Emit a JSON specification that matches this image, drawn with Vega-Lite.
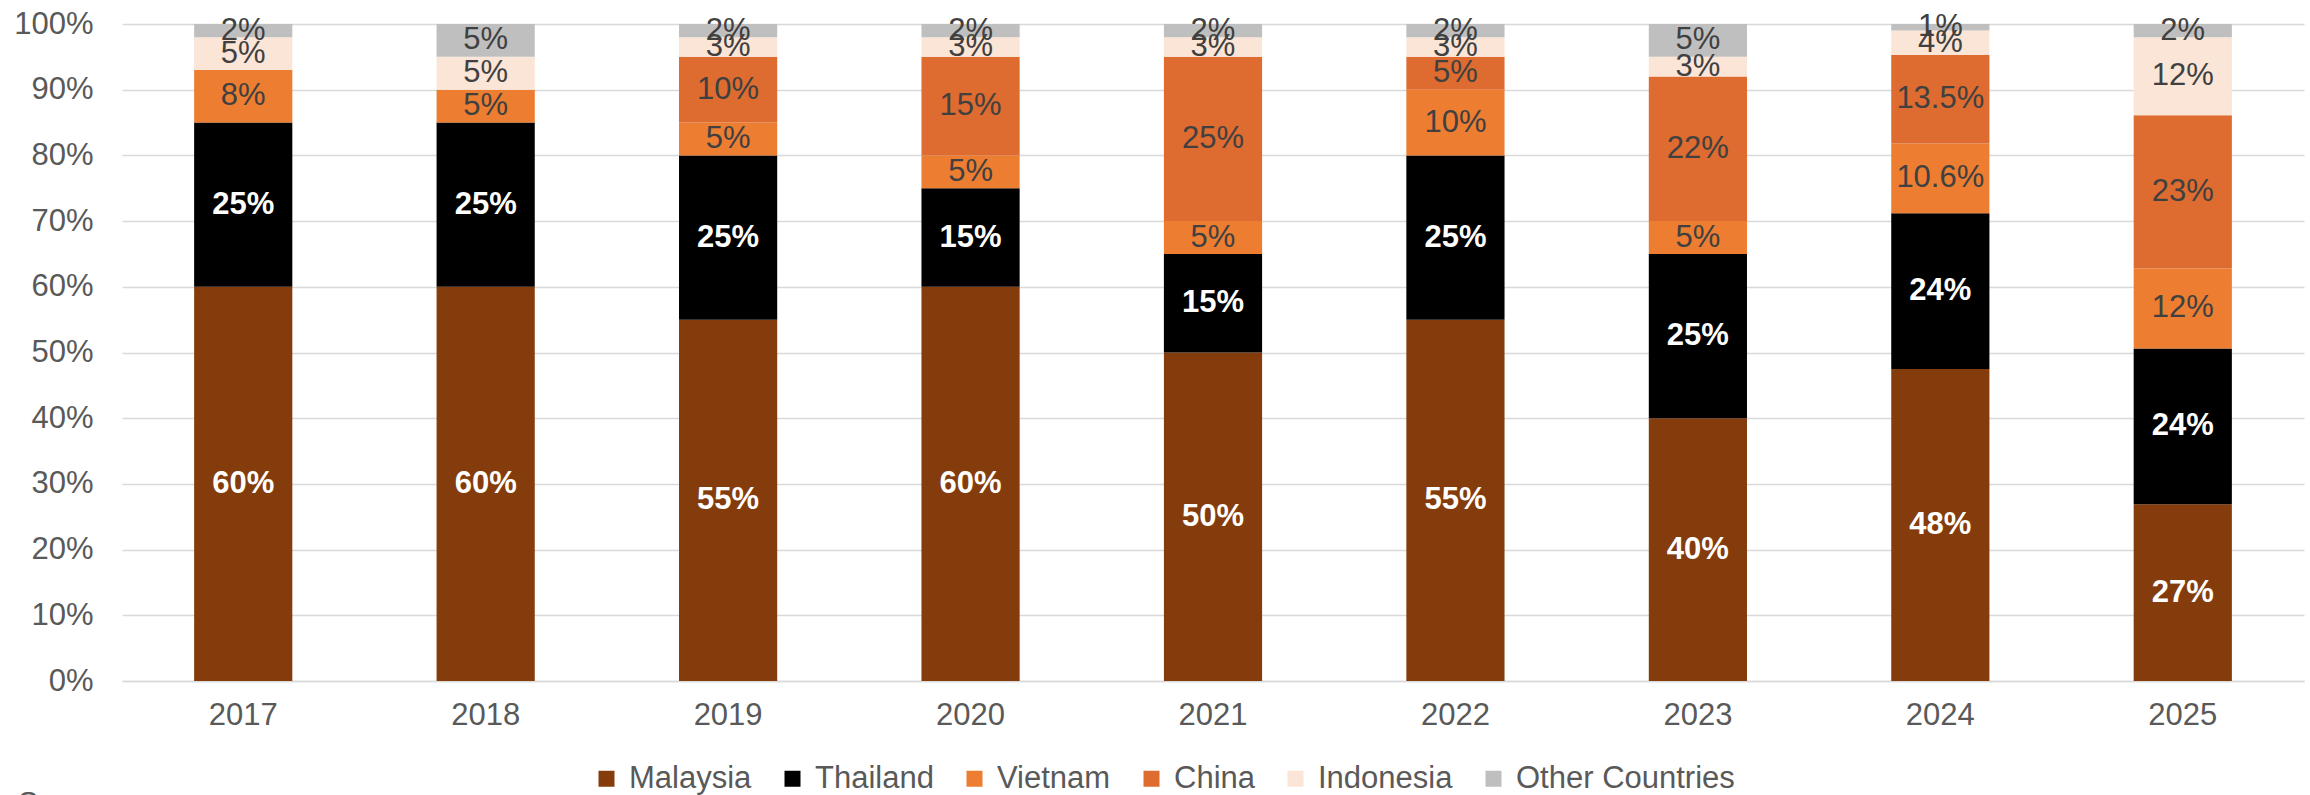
{
  "$schema": "https://vega.github.io/schema/vega-lite/v6.json",
  "width": 2182,
  "height": 657,
  "autosize": "none",
  "padding": {"left": 122, "top": 24, "right": 6, "bottom": 114},
  "background": "white",
  "config": {
    "font": "Liberation Sans",
    "view": {"stroke": null}
  },
  "title": {
    "text": "Source:",
    "orient": "top",
    "anchor": "start",
    "frame": "group",
    "baseline": "top",
    "fontSize": 31,
    "fontWeight": "normal",
    "color": "#595959",
    "dx": -104,
    "dy": 817
  },
  "data": {
    "values": [
      {"year": "2017", "country": "Malaysia", "value": 60, "lab": "60%"},
      {"year": "2017", "country": "Thailand", "value": 25, "lab": "25%"},
      {"year": "2017", "country": "Vietnam", "value": 8, "lab": "8%"},
      {"year": "2017", "country": "Indonesia", "value": 5, "lab": "5%"},
      {"year": "2017", "country": "Other Countries", "value": 2, "lab": "2%"},
      {"year": "2018", "country": "Malaysia", "value": 60, "lab": "60%"},
      {"year": "2018", "country": "Thailand", "value": 25, "lab": "25%"},
      {"year": "2018", "country": "Vietnam", "value": 5, "lab": "5%"},
      {"year": "2018", "country": "Indonesia", "value": 5, "lab": "5%"},
      {"year": "2018", "country": "Other Countries", "value": 5, "lab": "5%"},
      {"year": "2019", "country": "Malaysia", "value": 55, "lab": "55%"},
      {"year": "2019", "country": "Thailand", "value": 25, "lab": "25%"},
      {"year": "2019", "country": "Vietnam", "value": 5, "lab": "5%"},
      {"year": "2019", "country": "China", "value": 10, "lab": "10%"},
      {"year": "2019", "country": "Indonesia", "value": 3, "lab": "3%"},
      {"year": "2019", "country": "Other Countries", "value": 2, "lab": "2%"},
      {"year": "2020", "country": "Malaysia", "value": 60, "lab": "60%"},
      {"year": "2020", "country": "Thailand", "value": 15, "lab": "15%"},
      {"year": "2020", "country": "Vietnam", "value": 5, "lab": "5%"},
      {"year": "2020", "country": "China", "value": 15, "lab": "15%"},
      {"year": "2020", "country": "Indonesia", "value": 3, "lab": "3%"},
      {"year": "2020", "country": "Other Countries", "value": 2, "lab": "2%"},
      {"year": "2021", "country": "Malaysia", "value": 50, "lab": "50%"},
      {"year": "2021", "country": "Thailand", "value": 15, "lab": "15%"},
      {"year": "2021", "country": "Vietnam", "value": 5, "lab": "5%"},
      {"year": "2021", "country": "China", "value": 25, "lab": "25%"},
      {"year": "2021", "country": "Indonesia", "value": 3, "lab": "3%"},
      {"year": "2021", "country": "Other Countries", "value": 2, "lab": "2%"},
      {"year": "2022", "country": "Malaysia", "value": 55, "lab": "55%"},
      {"year": "2022", "country": "Thailand", "value": 25, "lab": "25%"},
      {"year": "2022", "country": "Vietnam", "value": 10, "lab": "10%"},
      {"year": "2022", "country": "China", "value": 5, "lab": "5%"},
      {"year": "2022", "country": "Indonesia", "value": 3, "lab": "3%"},
      {"year": "2022", "country": "Other Countries", "value": 2, "lab": "2%"},
      {"year": "2023", "country": "Malaysia", "value": 40, "lab": "40%"},
      {"year": "2023", "country": "Thailand", "value": 25, "lab": "25%"},
      {"year": "2023", "country": "Vietnam", "value": 5, "lab": "5%"},
      {"year": "2023", "country": "China", "value": 22, "lab": "22%"},
      {"year": "2023", "country": "Indonesia", "value": 3, "lab": "3%"},
      {"year": "2023", "country": "Other Countries", "value": 5, "lab": "5%"},
      {"year": "2024", "country": "Malaysia", "value": 47.5, "lab": "48%"},
      {"year": "2024", "country": "Thailand", "value": 23.7, "lab": "24%"},
      {"year": "2024", "country": "Vietnam", "value": 10.6, "lab": "10.6%"},
      {"year": "2024", "country": "China", "value": 13.5, "lab": "13.5%"},
      {"year": "2024", "country": "Indonesia", "value": 3.7, "lab": "4%"},
      {"year": "2024", "country": "Other Countries", "value": 1, "lab": "1%"},
      {"year": "2025", "country": "Malaysia", "value": 26.9, "lab": "27%"},
      {"year": "2025", "country": "Thailand", "value": 23.7, "lab": "24%"},
      {"year": "2025", "country": "Vietnam", "value": 12.2, "lab": "12%"},
      {"year": "2025", "country": "China", "value": 23.3, "lab": "23%"},
      {"year": "2025", "country": "Indonesia", "value": 11.9, "lab": "12%"},
      {"year": "2025", "country": "Other Countries", "value": 2, "lab": "2%"}
    ]
  },
  "transform": [
    {"calculate": "indexof(['Malaysia','Thailand','Vietnam','China','Indonesia','Other Countries'], datum.country)", "as": "k"}
  ],
  "encoding": {
    "x": {
      "field": "year",
      "type": "nominal",
      "scale": {"paddingInner": 0.595, "paddingOuter": 0.2975},
      "axis": {
        "title": null,
        "labelAngle": 0,
        "labelFontSize": 31,
        "labelColor": "#595959",
        "labelPadding": 19,
        "ticks": false,
        "domain": true,
        "domainColor": "#D9D9D9",
        "domainWidth": 1.5,
        "grid": false
      }
    },
    "y": {
      "field": "value",
      "type": "quantitative",
      "stack": "zero",
      "scale": {"domain": [0, 100], "nice": false},
      "axis": {
        "title": null,
        "values": [0, 10, 20, 30, 40, 50, 60, 70, 80, 90, 100],
        "labelExpr": "datum.value + '%'",
        "labelFontSize": 31,
        "labelColor": "#595959",
        "labelPadding": 29,
        "ticks": false,
        "domain": false,
        "grid": true,
        "gridColor": "#D9D9D9",
        "gridWidth": 1.5
      }
    },
    "order": {"field": "k", "type": "quantitative"}
  },
  "layer": [
    {
      "mark": {"type": "bar"},
      "encoding": {
        "color": {
          "field": "country",
          "type": "nominal",
          "scale": {
            "domain": ["Malaysia", "Thailand", "Vietnam", "China", "Indonesia", "Other Countries"],
            "range": ["#843C0C", "#000000", "#ED7D31", "#DE6B2F", "#FBE5D6", "#BFBFBF"]
          },
          "legend": {
            "title": null,
            "orient": "none",
            "direction": "horizontal",
            "legendX": 469,
            "legendY": 739,
            "symbolType": "square",
            "symbolSize": 256,
            "symbolStrokeWidth": 0,
            "labelFontSize": 31,
            "labelColor": "#595959",
            "labelOffset": 7,
            "columnPadding": 25,
            "labelLimit": 400
          }
        }
      }
    },
    {
      "mark": {"type": "text", "fontSize": 31, "fontWeight": "bold", "color": "white", "baseline": "middle"},
      "encoding": {
        "y": {"field": "value", "type": "quantitative", "stack": "zero", "bandPosition": 0.5},
        "text": {"condition": {"test": "datum.k < 2", "field": "lab"}, "value": ""}
      }
    },
    {
      "mark": {"type": "text", "fontSize": 31, "color": "#404040", "baseline": "middle"},
      "encoding": {
        "y": {"field": "value", "type": "quantitative", "stack": "zero", "bandPosition": 0.5},
        "text": {"condition": {"test": "datum.k >= 2", "field": "lab"}, "value": ""}
      }
    }
  ]
}
